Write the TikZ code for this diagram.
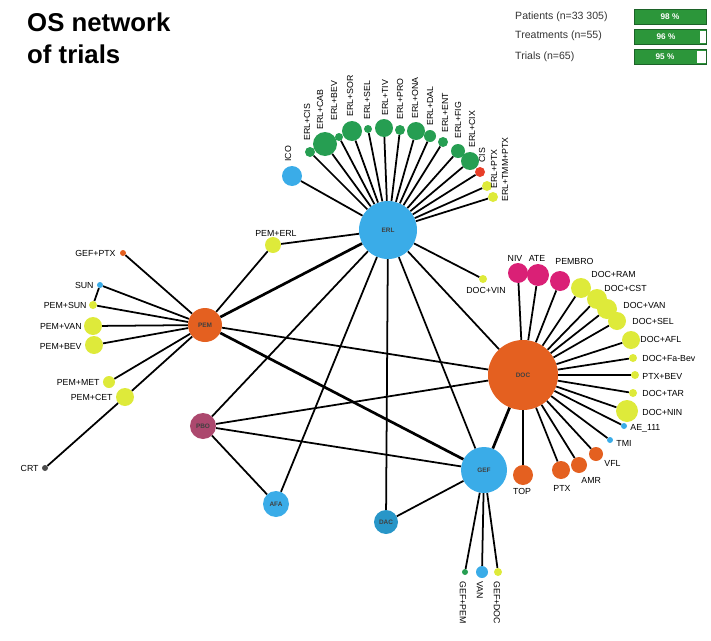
\documentclass[tikz,border=0pt]{standalone}
\usepackage{fontspec}
\setmainfont{Liberation Sans}
\setsansfont{Liberation Sans}
\usetikzlibrary{positioning}
\definecolor{tkiblue}{RGB}{58,172,232}
\definecolor{tealblue}{RGB}{40,150,200}
\definecolor{chemoorange}{RGB}{228,96,32}
\definecolor{combogreen}{RGB}{38,158,82}
\definecolor{mixyellow}{RGB}{222,234,58}
\definecolor{immunopink}{RGB}{218,32,118}
\definecolor{placebomauve}{RGB}{172,72,110}
\definecolor{smallred}{RGB}{232,62,40}
\definecolor{barfill}{RGB}{44,150,58}
\definecolor{barline}{RGB}{28,98,40}

\begin{document}
\begin{tikzpicture}[
  x=0.3mm, y=-0.3mm,
  font=\sffamily\fontsize{7.5}{8}\selectfont,
  ball/.style={circle, inner sep=0pt, minimum size=#1*0.6mm},
  blueball/.style={ball=#1, fill=tkiblue},
  orangeball/.style={ball=#1, fill=chemoorange},
  greenball/.style={ball=#1, fill=combogreen},
  yellowball/.style={ball=#1, fill=mixyellow},
  pinkball/.style={ball=#1, fill=immunopink},
  redball/.style={ball=#1, fill=smallred},
  hubtxt/.style={font=\sffamily\bfseries\fontsize{5.5}{6}\selectfont, text=black!75},
  tie/.style={line width=1.5pt},
  tiethick/.style={line width=2.3pt},
  lbl/.style={inner sep=1pt},
  vlbl/.style={inner sep=1pt, rotate=90, anchor=west},
  dlbl/.style={inner sep=1pt, rotate=-90, anchor=west},
  legtxt/.style={anchor=west, inner sep=0pt, font=\sffamily\fontsize{9}{10}\selectfont, text=black!80},
  bar/.style={draw=barline, fill=barfill, line width=0.8pt, minimum width=21.6mm,
    minimum height=4.6mm, inner sep=0pt, font=\sffamily\bfseries\fontsize{7}{8}\selectfont, text=white}
]
  \useasboundingbox (0,0) rectangle (711,641);

  % title and legend
  \node[anchor=north west, align=left, inner sep=0pt,
    font=\sffamily\bfseries\fontsize{22}{27}\selectfont] (title) at (27,13) {OS network\\of trials};
  \node[legtxt] (lpat) at (515,17) {Patients (n=33 305)};
  \node[legtxt] (ltrt) at (515,36) {Treatments (n=55)};
  \node[legtxt] (ltri) at (515,57) {Trials (n=65)};
  \node[bar] (bpat) at (670,17) {98 \%};
  \node[bar] (btrt) at (670,37) {};
  \node[bar] (btri) at (670,57) {};
  \fill[white] (700,31) rectangle (705.5,43);
  \fill[white] (697,51) rectangle (705.5,63);
  \node[font=\sffamily\bfseries\fontsize{7}{8}\selectfont, text=white] (ptrt) at (666,37) {96 \%};
  \node[font=\sffamily\bfseries\fontsize{7}{8}\selectfont, text=white] (ptri) at (665,57) {95 \%};

  % hubs
  \node[blueball=29, hubtxt] (erl) at (388,230) {ERL};
  \node[orangeball=35, hubtxt] (doc) at (523,375) {DOC};
  \node[orangeball=17, hubtxt] (pem) at (205,325) {PEM};
  \node[ball=13, fill=placebomauve, hubtxt] (pbo) at (203,426) {PBO};
  \node[blueball=23, hubtxt] (gef) at (484,470) {GEF};
  \node[blueball=13, hubtxt] (afa) at (276,504) {AFA};
  \node[ball=12, fill=tealblue, hubtxt] (dac) at (386,522) {DAC};

  % top fan
  \node[blueball=10] (ico) at (292,176) {};
  \node[greenball=5] (ecis) at (310,152) {};
  \node[greenball=12] (ecab) at (325,144) {};
  \node[greenball=4] (ebev) at (339,137) {};
  \node[greenball=10] (esor) at (352,131) {};
  \node[greenball=4] (esel) at (368,129) {};
  \node[greenball=9] (etiv) at (384,128) {};
  \node[greenball=5] (epro) at (400,130) {};
  \node[greenball=9] (eona) at (416,131) {};
  \node[greenball=6] (edal) at (430,136) {};
  \node[greenball=5] (eent) at (443,142) {};
  \node[greenball=7] (efig) at (458,151) {};
  \node[greenball=9] (ecix) at (470,161) {};
  \node[redball=5] (ecisr) at (480,172) {};
  \node[yellowball=5] (eptx) at (487,186) {};
  \node[yellowball=5] (etmm) at (493,197) {};
  \node[vlbl] (lico) at (288,163) {ICO};
  \node[vlbl] (lecis) at (307,142) {ERL+CIS};
  \node[vlbl] (lecab) at (320,131) {ERL+CAB};
  \node[vlbl] (lebev) at (334,122) {ERL+BEV};
  \node[vlbl] (lesor) at (350,118) {ERL+SOR};
  \node[vlbl] (lesel) at (367,121) {ERL+SEL};
  \node[vlbl] (letiv) at (385,117) {ERL+TIV};
  \node[vlbl] (lepro) at (400,121) {ERL+PRO};
  \node[vlbl] (leona) at (415,120) {ERL+ONA};
  \node[vlbl] (ledal) at (430,127) {ERL+DAL};
  \node[vlbl] (leent) at (445,134) {ERL+ENT};
  \node[vlbl] (lefig) at (458,140) {ERL+FIG};
  \node[vlbl] (lecix) at (472,149) {ERL+CIX};
  \node[vlbl] (lecisr) at (482,164) {CIS};
  \node[vlbl] (leptx) at (494,190) {ERL+PTX};
  \node[vlbl] (letmm) at (505,203) {ERL+TMM+PTX};

  % right fan
  \node[pinkball=10] (niv) at (518,273) {};
  \node[pinkball=11] (ate) at (538,275) {};
  \node[pinkball=10] (pembro) at (560,281) {};
  \node[yellowball=10] (dram) at (581,288) {};
  \node[yellowball=10] (dcst) at (597,299) {};
  \node[yellowball=10] (dvan) at (607,309) {};
  \node[yellowball=9] (dsel) at (617,321) {};
  \node[yellowball=9] (dafl) at (631,340) {};
  \node[yellowball=4] (dfab) at (633,358) {};
  \node[yellowball=4] (pbev) at (635,375) {};
  \node[yellowball=4] (dtar) at (633,393) {};
  \node[yellowball=11] (dnin) at (627,411) {};
  \node[blueball=3] (ae) at (624,426) {};
  \node[blueball=3] (tmi) at (610,440) {};
  \node[orangeball=7] (vfl) at (596,454) {};
  \node[orangeball=8] (amr) at (579,465) {};
  \node[orangeball=9] (ptx) at (561,470) {};
  \node[orangeball=10] (top) at (523,475) {};
  \node[yellowball=4] (dvin) at (483,279) {};
  \node[lbl, anchor=south] (lniv) at (515,263) {NIV};
  \node[lbl, anchor=south] (late) at (537,263) {ATE};
  \node[lbl, anchor=west] (lpembro) at (554,261) {PEMBRO};
  \node[lbl, anchor=west] (ldram) at (590,274) {DOC+RAM};
  \node[lbl, anchor=west] (ldcst) at (603,288) {DOC+CST};
  \node[lbl, anchor=west] (ldvan) at (622,305) {DOC+VAN};
  \node[lbl, anchor=west] (ldsel) at (631,321) {DOC+SEL};
  \node[lbl, anchor=west] (ldafl) at (639,339) {DOC+AFL};
  \node[lbl, anchor=west] (ldfab) at (641,358) {DOC+Fa-Bev};
  \node[lbl, anchor=west] (lpbev) at (641,376) {PTX+BEV};
  \node[lbl, anchor=west] (ldtar) at (641,393) {DOC+TAR};
  \node[lbl, anchor=west] (ldnin) at (641,412) {DOC+NIN};
  \node[lbl, anchor=west] (lae) at (629,428) {AE\_111};
  \node[lbl, anchor=west] (ltmi) at (615,443) {TMI};
  \node[lbl, anchor=west] (lvfl) at (603,463) {VFL};
  \node[lbl, anchor=west] (lamr) at (580,480) {AMR};
  \node[lbl, anchor=north] (lptx) at (562,484) {PTX};
  \node[lbl, anchor=north] (ltop) at (522,487) {TOP};
  \node[lbl, anchor=north] (ldvin) at (486,286) {DOC+VIN};

  % left fan
  \node[yellowball=8] (perl) at (273,245) {};
  \node[orangeball=3] (gptx) at (123,253) {};
  \node[blueball=3] (sun) at (100,285) {};
  \node[yellowball=4] (psun) at (93,305) {};
  \node[yellowball=9] (pvan) at (93,326) {};
  \node[yellowball=9] (pbevl) at (94,345) {};
  \node[yellowball=6] (pmet) at (109,382) {};
  \node[yellowball=9] (pcet) at (125,397) {};
  \node[ball=3, fill=black!70] (crt) at (45,468) {};
  \node[lbl, anchor=south] (lperl) at (276,238) {PEM+ERL};
  \node[lbl, anchor=east] (lgptx) at (117,253) {GEF+PTX};
  \node[lbl, anchor=east] (lsun) at (95,285) {SUN};
  \node[lbl, anchor=east] (lpsun) at (88,305) {PEM+SUN};
  \node[lbl, anchor=east] (lpvan) at (83,326) {PEM+VAN};
  \node[lbl, anchor=east] (lpbevl) at (83,346) {PEM+BEV};
  \node[lbl, anchor=east] (lpmet) at (101,382) {PEM+MET};
  \node[lbl, anchor=east] (lpcet) at (114,397) {PEM+CET};
  \node[lbl, anchor=east] (lcrt) at (40,468) {CRT};

  % bottom fan
  \node[greenball=3] (gpem) at (465,572) {};
  \node[blueball=6] (van) at (482,572) {};
  \node[yellowball=4] (gdoc) at (498,572) {};
  \node[dlbl] (lgpem) at (463,580) {GEF+PEM};
  \node[dlbl] (lvan) at (480,580) {VAN};
  \node[dlbl] (lgdoc) at (497,580) {GEF+DOC};

  % ties of the fans
  \draw[tie] (erl) -- (ico);   \draw[tie] (erl) -- (ecis);
  \draw[tie] (erl) -- (ecab);  \draw[tie] (erl) -- (ebev);
  \draw[tie] (erl) -- (esor);  \draw[tie] (erl) -- (esel);
  \draw[tie] (erl) -- (etiv);  \draw[tie] (erl) -- (epro);
  \draw[tie] (erl) -- (eona);  \draw[tie] (erl) -- (edal);
  \draw[tie] (erl) -- (eent);  \draw[tie] (erl) -- (efig);
  \draw[tie] (erl) -- (ecix);  \draw[tie] (erl) -- (ecisr);
  \draw[tie] (erl) -- (eptx);  \draw[tie] (erl) -- (etmm);
  \draw[tie] (erl) -- (dvin);

  \draw[tie] (doc) -- (niv);   \draw[tie] (doc) -- (ate);
  \draw[tie] (doc) -- (pembro); \draw[tie] (doc) -- (dram);
  \draw[tie] (doc) -- (dcst);  \draw[tie] (doc) -- (dvan);
  \draw[tie] (doc) -- (dsel);  \draw[tie] (doc) -- (dafl);
  \draw[tie] (doc) -- (dfab);  \draw[tie] (doc) -- (pbev);
  \draw[tie] (doc) -- (dtar);  \draw[tie] (doc) -- (dnin);
  \draw[tie] (doc) -- (ae);    \draw[tie] (doc) -- (tmi);
  \draw[tie] (doc) -- (vfl);   \draw[tie] (doc) -- (amr);
  \draw[tie] (doc) -- (ptx);   \draw[tie] (doc) -- (top);

  \draw[tie] (pem) -- (gptx);  \draw[tie] (pem) -- (sun);
  \draw[tie] (pem) -- (psun);  \draw[tie] (pem) -- (pvan);
  \draw[tie] (pem) -- (pbevl); \draw[tie] (pem) -- (pmet);
  \draw[tie] (pem) -- (pcet);  \draw[tie] (pcet) -- (crt);
  \draw[tie] (sun) -- (psun);  \draw[tie] (pem) -- (perl);
  \draw[tie] (perl) -- (erl);

  \draw[tie] (gef) -- (gpem);  \draw[tie] (gef) -- (van);
  \draw[tie] (gef) -- (gdoc);

  % ties between hubs
  \draw[tiethick] (erl) -- (pem);
  \draw[tie] (erl) -- (doc);
  \draw[tie] (erl) -- (gef);
  \draw[tie] (erl) -- (dac);
  \draw[tie] (erl) -- (afa);
  \draw[tie] (erl) -- (pbo);
  \draw[tie] (pem) -- (doc);
  \draw[tiethick] (pem) -- (gef);
  \draw[tie] (pbo) -- (doc);
  \draw[tie] (pbo) -- (gef);
  \draw[tie] (pbo) -- (afa);
  \draw[tie] (dac) -- (gef);
  \draw[tiethick] (doc) -- (gef);
\end{tikzpicture}
\end{document}
